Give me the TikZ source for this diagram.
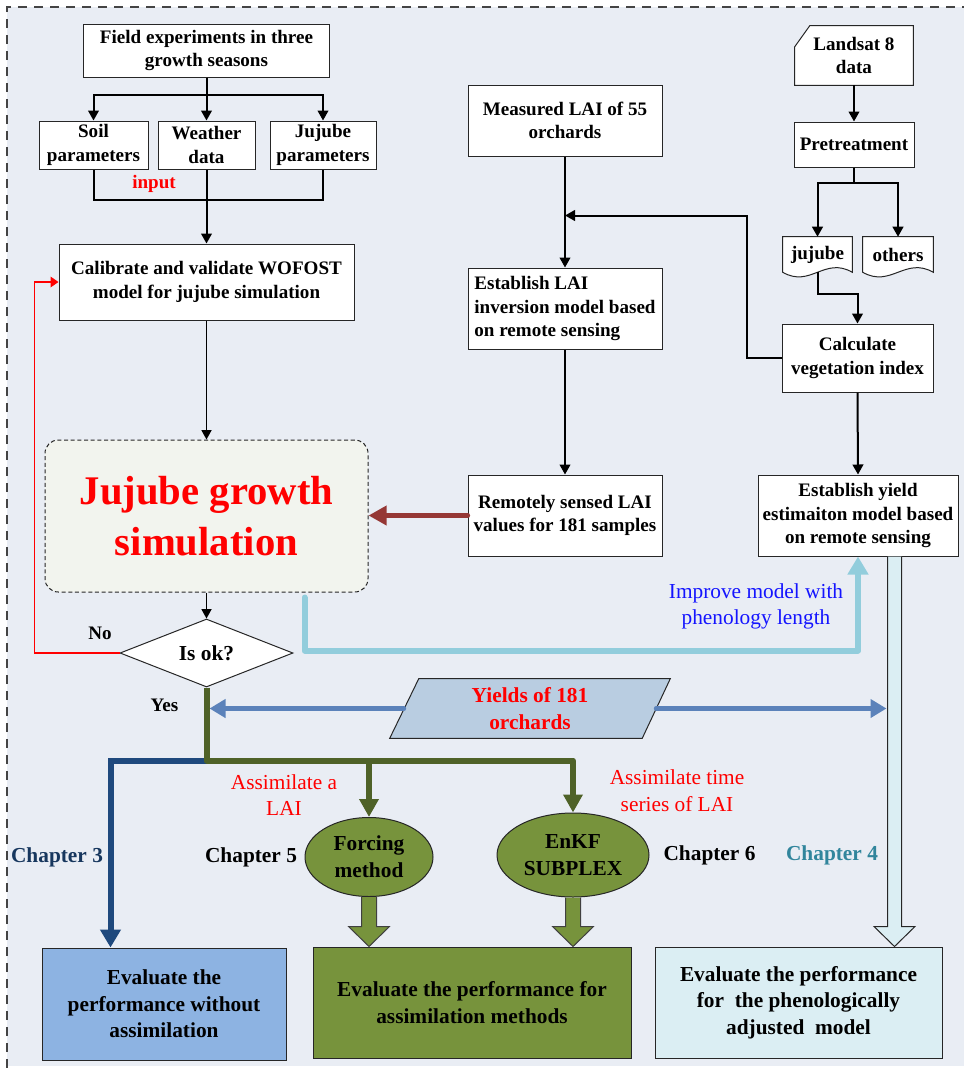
\documentclass[tikz,border=0pt]{standalone}
\usepackage{fontspec}
\setmainfont{Liberation Serif}
\usetikzlibrary{arrows.meta,shapes.geometric,calc}

\definecolor{bgpanel}{HTML}{E9EDF4}
\definecolor{simfill}{HTML}{F2F4EE}
\definecolor{brownarrow}{HTML}{953735}
\definecolor{skyline}{HTML}{92CDDC}
\definecolor{yieldfill}{HTML}{B9CDE1}
\definecolor{steelarrow}{HTML}{5B82BA}
\definecolor{olivedark}{HTML}{4F6228}
\definecolor{navyline}{HTML}{1F497D}
\definecolor{olivefill}{HTML}{77933C}
\definecolor{bluebox}{HTML}{8DB3E2}
\definecolor{icebox}{HTML}{DBEEF3}
\definecolor{chapnavy}{HTML}{17375E}
\definecolor{chapteal}{HTML}{31859C}
\definecolor{improveblue}{HTML}{1414FF}
\definecolor{bordergray}{HTML}{444444}

\newcommand\bxf{\bfseries\fontsize{14.3}{17.4}\selectfont}
\newcommand\mdf{\fontsize{16}{20}\selectfont}
\newcommand\mdbf{\bfseries\fontsize{16}{20}\selectfont}
\newcommand\bigf{\bfseries\fontsize{30.5}{38}\selectfont}

% block arrow: style, start, tip, shaft half width, head half width
\newcommand\blockarrow[5]{%
  \draw[#1] ($(#2)+(-#4,0)$) -- ($(#3)+(-#4,-20)$) -- ($(#3)+(-#5,-20)$) --
    (#3) -- ($(#3)+(#5,-20)$) -- ($(#3)+(#4,-20)$) -- ($(#2)+(#4,0)$);}

\pgfdeclarelayer{panel}
\pgfdeclarelayer{shapes}
\pgfsetlayers{panel,shapes,main}

\begin{document}
\begin{tikzpicture}[x=0.75pt,y=-0.75pt,
  box/.style={draw=black!85,line width=0.75pt,fill=white,inner sep=0pt,
    align=center,font=\bxf},
  plain/.style={inner sep=0pt,align=center,font=\bxf},
  lbl/.style={inner sep=0pt,align=center,font=\bxf},
  chap/.style={inner sep=0pt,align=center,font=\mdbf},
  assim/.style={inner sep=0pt,align=center,font=\mdf,text=red},
  outline/.style={draw=black!85,line width=0.75pt,fill=white},
  conn/.style={line width=1.5pt},
  arr/.style={line width=1.5pt,-{Triangle[width=8pt,length=7.5pt]}},
  thinarr/.style={line width=1pt,-{Triangle[width=7.5pt,length=7pt]}},
  redarr/.style={draw=red,line width=1pt,-{Triangle[width=8pt,length=6pt]}},
  brownarr/.style={draw=brownarrow,line width=4pt,line cap=round,
    -{Triangle[width=14pt,length=13.5pt]}},
  skyarr/.style={draw=skyline,line width=4.5pt,line cap=round,line join=round,
    -{Triangle[width=15pt,length=13.5pt]}},
  steelarr/.style={draw=steelarrow,line width=3.75pt,line cap=round,
    -{Triangle[width=13.5pt,length=12pt]}},
  navyarr/.style={draw=navyline,line width=4.5pt,
    -{Triangle[width=15pt,length=13.5pt]}},
  oliveline/.style={draw=olivedark,line width=4.5pt,line join=round},
  olivearr/.style={draw=olivedark,line width=4.5pt,line join=round,
    -{Triangle[width=14pt,length=13.5pt]}},
  fatgreen/.style={draw=black!75,line width=0.75pt,fill=olivefill},
  hollow/.style={draw=black!85,line width=0.75pt,fill=icebox},
  evalbox/.style={draw=black!85,line width=0.75pt,inner sep=0pt,align=center,font=\mdbf},
]
\useasboundingbox (0,0) rectangle (964,1068);

% panel and dashed frame
\begin{pgfonlayer}{panel}
  \fill[white] (0,0) rectangle (964,1068);
  \fill[bgpanel] (7,7) rectangle (964,1066);
  \draw[bordergray,line width=1.1pt,dash pattern=on 6.75pt off 5.25pt]
    (7,1068) -- (7,7) -- (964,7);
\end{pgfonlayer}

% ---- left column: model set-up ----
\node[box,minimum width=184.5pt,minimum height=39.75pt] (field) at (206.5,50.5)
  {Field experiments in three\\growth seasons};
\node[box,minimum width=81.75pt,minimum height=36pt] (soil) at (93.5,145)
  {Soil\\parameters};
\node[box,minimum width=72.75pt,minimum height=36pt] (weather) at (206.5,145)
  {Weather\\data};
\node[box,minimum width=79.5pt,minimum height=36pt] (jujp) at (323,145)
  {Jujube\\parameters};
\node[lbl,text=red] (inputlbl) at (154,184) {input};
\node[box,minimum width=221.25pt,minimum height=57pt] (calib) at (206.5,282)
  {Calibrate and validate WOFOST\\model for jujube simulation};
\node[draw=black!85,line width=0.75pt,dash pattern=on 3pt off 2pt,
  rounded corners=10pt,fill=simfill,inner sep=0pt,align=center,font=\bigf,
  text=red,minimum width=242.25pt,minimum height=114pt] (sim) at (206.5,516)
  {Jujube growth\\simulation};
\node[draw=black!85,line width=0.75pt,fill=white,shape=diamond,aspect=2.5,
  inner sep=0pt,minimum width=129.75pt,minimum height=51pt,font=\mdbf]
  (dia) at (206.5,653) {Is ok?};
\node[lbl] (nolbl) at (100,633) {No};
\node[lbl] (yeslbl) at (164.5,705) {Yes};

% ---- middle column: LAI ----
\node[box,minimum width=145.5pt,minimum height=53.25pt] (measured) at (565,120.5)
  {Measured LAI of 55\\orchards};
\node[box,align=left,minimum width=145.5pt,minimum height=60.75pt] (estlai) at (565,308.5)
  {Establish LAI\\inversion model based\\on remote sensing};
\node[box,minimum width=145.5pt,minimum height=60.75pt] (remote) at (565,515.5)
  {Remotely sensed LAI\\values for 181 samples};

% ---- right column: remote sensing ----
\node[plain,minimum width=88.5pt,minimum height=44.25pt] (ls) at (854,55.5)
  {Landsat 8\\data};
\node[box,minimum width=90pt,minimum height=33.75pt] (pre) at (854,144.5)
  {Pretreatment};
\node[plain,minimum width=51.75pt,minimum height=26.25pt] (jd) at (817.5,254.5) {jujube};
\node[plain,minimum width=52.5pt,minimum height=26.25pt] (od) at (898,254.5) {others};
\node[box,minimum width=113.25pt,minimum height=51pt] (calcvi) at (857.5,358)
  {Calculate\\vegetation index};
\node[box,minimum width=150pt,minimum height=60.75pt] (esty) at (858,515.5)
  {Establish yield\\estimaiton model based\\on remote sensing};
\node[inner sep=0pt,align=center,font=\mdf,text=improveblue] (improvelbl)
  at (756,606.5) {Improve model with\\phenology length};

% ---- yields and assimilation ----
\node[inner sep=0pt,align=center,font=\mdbf,text=red,minimum width=189pt,
  minimum height=44.25pt] (yields) at (530,708.5) {Yields of 181\\orchards};
\node[draw=black!85,line width=0.75pt,fill=olivefill,shape=ellipse,inner sep=0pt,
  align=center,font=\mdbf,minimum width=96pt,minimum height=59.25pt]
  (forcing) at (369,857) {Forcing\\method};
\node[draw=black!85,line width=0.75pt,fill=olivefill,shape=ellipse,inner sep=0pt,
  align=center,font=\mdbf,minimum width=114pt,minimum height=63pt]
  (enkf) at (573,855) {EnKF\\SUBPLEX};
\node[assim] (as1) at (284,795) {Assimilate a\\LAI};
\node[assim] (as2) at (677,791) {Assimilate time\\series of LAI};
\node[chap,text=chapnavy] (ch3) at (57,857) {Chapter 3};
\node[chap] (ch5) at (251,857) {Chapter 5};
\node[chap] (ch6) at (709.5,855) {Chapter 6};
\node[chap,text=chapteal] (ch4) at (832,855) {Chapter 4};

% ---- evaluation boxes ----
\node[evalbox,fill=bluebox,minimum width=183pt,minimum height=84pt] (bb) at (164,1004)
  {Evaluate the\\performance without\\assimilation};
\node[evalbox,fill=olivefill,minimum width=238.5pt,minimum height=83.25pt] (gb)
  at (472,1002.5) {Evaluate the performance for\\assimilation methods};
\node[evalbox,fill=icebox,minimum width=215.25pt,minimum height=83.25pt] (lb)
  at (798.5,1002.5) {Evaluate the performance\\for\ \ the phenologically\\adjusted\ \ model};

% outlines of the special shapes, beneath their texts
\begin{pgfonlayer}{shapes}
  \draw[outline] ($(ls.north west)+(15,0)$) -- (ls.north east) -- (ls.south east)
    -- (ls.south west) -- ($(ls.north west)+(0,21)$) -- cycle;
  \draw[outline] (jd.south west) -- (jd.north west) -- (jd.north east) -- (jd.south east)
    .. controls ($(jd.south east)+(-27.6,-16)$) and ($(jd.south west)+(27.6,16)$)
    .. (jd.south west) -- cycle;
  \draw[outline] (od.south west) -- (od.north west) -- (od.north east) -- (od.south east)
    .. controls ($(od.south east)+(-28,-16)$) and ($(od.south west)+(28,16)$)
    .. (od.south west) -- cycle;
  \draw[draw=black!85,line width=0.75pt,fill=yieldfill]
    ($(yields.north west)+(15,0)$) -- ($(yields.north east)+(14,0)$)
    -- ($(yields.south east)+(-14,0)$) -- ($(yields.south west)+(-14,0)$) -- cycle;
\end{pgfonlayer}

% ---- connectors: top left ----
\draw[arr] (field.south) -- ++(0,17) -| (soil.north);
\draw[arr] (field.south) -- ++(0,17) -| (jujp.north);
\draw[arr] (field.south) -- (weather.north);
\draw[conn] (soil.south) -- ++(0,30) -| (jujp.south);
\draw[arr] (weather.south) -- (calib.north);
\draw[thinarr] (calib.south) -- (sim.north);
\draw[thinarr] (sim.south) -- (dia.north);
\draw[redarr] (dia.west) -| ($(calib.west)+(-24,0)$) -- (calib.west);

% ---- connectors: LAI column ----
\path (measured.south) ++(0,59) coordinate (j1);
\draw[arr] (measured.south) -- (estlai.north);
\draw[arr] (estlai.south) -- (remote.north);
\draw[arr] (calcvi.west) -- ++(-35,0) |- (j1);
\draw[brownarr] (remote.west) -- (remote.west -| sim.east);

% ---- connectors: remote sensing column ----
\draw[arr] (ls.south) -- (pre.north);
\draw[arr] (pre.south) -- ++(0,15) -| (jd.north);
\draw[arr] (pre.south) -- ++(0,15) -| (od.north);
\draw[arr] (jd.south) -- ++(0,22) -| (calcvi.north);
\draw[arr] (calcvi.south) -- (esty.north);
\draw[skyarr] ($(sim.south east)+(-64,5)$) -- ++(0,53) -| (esty.south);

% ---- hollow arrow to the phenology evaluation ----
\coordinate (hs) at ($(esty.south east)+(-64,0)$);
\coordinate (ht) at (hs |- lb.north);
\blockarrow{hollow}{hs}{ht}{7}{20.5}

% ---- yields arrows ----
\draw[steelarr] (yields.west) -- ($(yields.west -| dia.south)+(3,0)$);
\draw[steelarr] (yields.east) -- ($(yields.east -| hs)+(-8,0)$);

% ---- assimilation branches ----
\coordinate (g1) at ($(dia.south)+(0,73)$);
\draw[navyarr] (g1) -| ($(bb.north west)+(69,0)$);
\draw[olivearr] (dia.south) -- (g1) -- (g1 -| enkf.north) -- (enkf.north);
\draw[olivearr] (g1 -| forcing.north) -- (forcing.north);

\coordinate (fa) at (forcing.south |- gb.north);
\coordinate (ea) at (enkf.south |- gb.north);
\blockarrow{fatgreen}{forcing.south}{fa}{7.5}{20.5}
\blockarrow{fatgreen}{enkf.south}{ea}{7.5}{20.5}
\end{tikzpicture}
\end{document}
